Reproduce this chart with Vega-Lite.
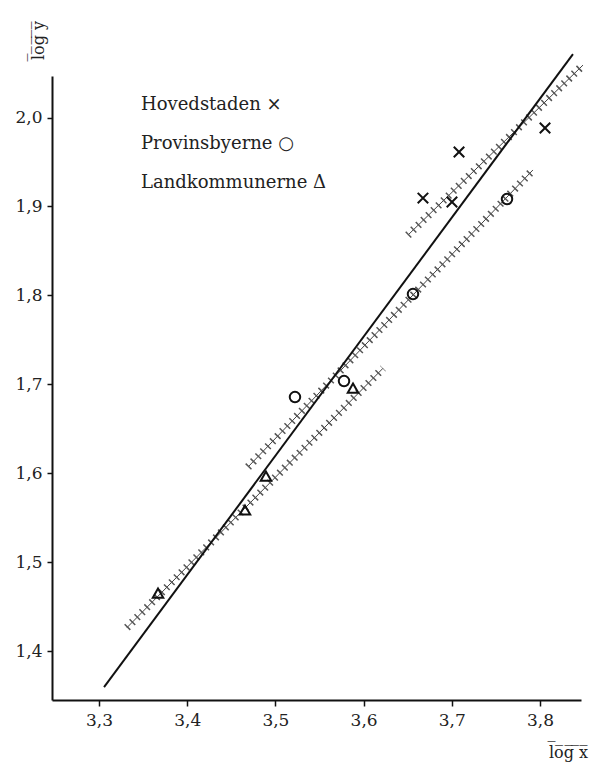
{
  "$schema": "https://vega.github.io/schema/vega-lite/v6.json",
  "width": 529,
  "height": 624,
  "autosize": {"type": "none"},
  "padding": {"left": 52, "top": 76, "right": 9, "bottom": 64},
  "background": "white",
  "config": {
    "view": {"stroke": null},
    "font": "DejaVu Serif"
  },
  "datasets": {
    "points": [
      {"group": "Hovedstaden", "x": 3.6673, "y": 1.9094},
      {"group": "Hovedstaden", "x": 3.7082, "y": 1.9612},
      {"group": "Hovedstaden", "x": 3.8057, "y": 1.9882},
      {"group": "Hovedstaden", "x": 3.7002, "y": 1.905},
      {"group": "Provinsbyerne", "x": 3.5222, "y": 1.6856},
      {"group": "Provinsbyerne", "x": 3.5778, "y": 1.7036},
      {"group": "Provinsbyerne", "x": 3.656, "y": 1.8014},
      {"group": "Provinsbyerne", "x": 3.7626, "y": 1.9083},
      {"group": "Landkommunerne", "x": 3.3669, "y": 1.4651},
      {"group": "Landkommunerne", "x": 3.4655, "y": 1.5585},
      {"group": "Landkommunerne", "x": 3.4893, "y": 1.5967},
      {"group": "Landkommunerne", "x": 3.588, "y": 1.6957}
    ],
    "bands": [
      {"group": "Hovedstaden", "x": 3.6503, "y": 1.8678},
      {"group": "Hovedstaden", "x": 3.8488, "y": 2.059},
      {"group": "Provinsbyerne", "x": 3.469, "y": 1.607},
      {"group": "Provinsbyerne", "x": 3.792, "y": 1.941},
      {"group": "Landkommunerne", "x": 3.3317, "y": 1.4263},
      {"group": "Landkommunerne", "x": 3.622, "y": 1.718}
    ],
    "fit": [
      {"x": 3.3057, "y": 1.3594},
      {"x": 3.8374, "y": 2.0714}
    ]
  },
  "encoding": {
    "x": {
      "field": "x",
      "type": "quantitative",
      "scale": {"domain": [3.2467, 3.8465], "nice": false, "zero": false},
      "axis": {
        "values": [3.3, 3.4, 3.5, 3.6, 3.7, 3.8],
        "labelExpr": "replace(format(datum.value, '.1f'), '.', ',')",
        "grid": false,
        "domainColor": "#111",
        "domainWidth": 2,
        "tickColor": "#111",
        "tickWidth": 1.5,
        "tickSize": 6,
        "labelPadding": 6,
        "labelFont": "DejaVu Serif",
        "labelFontSize": 17,
        "labelColor": "#222",
        "title": "l\u0305o\u0305g\u0305 \u0305x\u0305",
        "titleFont": "DejaVu Serif",
        "titleFontSize": 16,
        "titleFontWeight": "normal",
        "titleColor": "#222",
        "titleAlign": "center",
        "titleBaseline": "middle",
        "titleX": 516,
        "titleY": 52
      }
    },
    "y": {
      "field": "y",
      "type": "quantitative",
      "scale": {"domain": [1.3449, 2.0467], "nice": false, "zero": false},
      "axis": {
        "values": [1.4, 1.5, 1.6, 1.7, 1.8, 1.9, 2.0],
        "labelExpr": "replace(format(datum.value, '.1f'), '.', ',')",
        "grid": false,
        "domainColor": "#111",
        "domainWidth": 2,
        "tickColor": "#111",
        "tickWidth": 1.5,
        "tickSize": 5,
        "labelPadding": 5,
        "labelFont": "DejaVu Serif",
        "labelFontSize": 17,
        "labelColor": "#222",
        "title": "l\u0305o\u0305g\u0305 \u0305y\u0305",
        "titleFont": "DejaVu Serif",
        "titleFontSize": 16,
        "titleFontWeight": "normal",
        "titleColor": "#222",
        "titleAngle": -90,
        "titleAlign": "center",
        "titleBaseline": "middle",
        "titleX": -14,
        "titleY": -36
      }
    }
  },
  "layer": [
    {
      "data": {"name": "bands"},
      "mark": {"type": "line", "color": "#444", "strokeWidth": 1},
      "encoding": {"detail": {"field": "group", "type": "nominal"}}
    },
    {
      "data": {"name": "bands"},
      "mark": {"type": "line", "color": "#555", "strokeWidth": 8, "strokeDash": [1.5, 5.5], "strokeCap": "butt"},
      "encoding": {"detail": {"field": "group", "type": "nominal"}}
    },
    {
      "data": {"name": "fit"},
      "mark": {"type": "line", "color": "#111", "strokeWidth": 2},
      "encoding": {}
    },
    {
      "data": {"name": "points"},
      "mark": {"type": "point", "filled": false, "color": "#111", "strokeWidth": 2, "size": 110, "opacity": 1},
      "encoding": {
        "shape": {
          "field": "group",
          "type": "nominal",
          "scale": {
            "domain": ["Hovedstaden", "Provinsbyerne", "Landkommunerne"],
            "range": ["M-1,-1L1,1M1,-1L-1,1", "circle", "triangle-up"]
          },
          "legend": {
            "orient": "none",
            "legendX": 71,
            "legendY": 20,
            "title": null,
            "symbolOpacity": 0,
            "symbolStrokeWidth": 0,
            "labelOffset": 0,
            "labelLimit": 0,
            "labelFont": "DejaVu Serif",
            "labelFontSize": 18,
            "labelColor": "#222",
            "rowPadding": 21,
            "labelExpr": "datum.label + (datum.label == 'Hovedstaden' ? ' ×' : datum.label == 'Provinsbyerne' ? ' ○' : ' Δ')"
          }
        }
      }
    }
  ]
}
